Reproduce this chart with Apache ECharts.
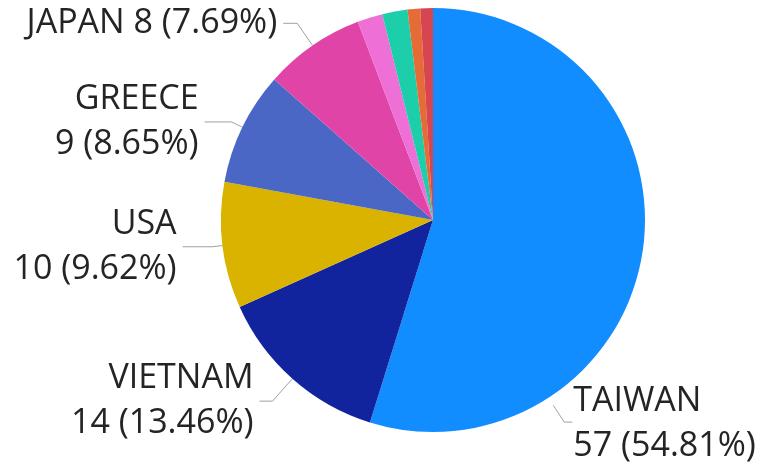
<!DOCTYPE html>
<html>
<head>
<meta charset="utf-8">
<script src="https://cdn.jsdelivr.net/npm/echarts@6/dist/echarts.min.js"></script>
<style>
  html, body { margin: 0; padding: 0; background: #fff; }
  #chart { width: 766px; height: 469px; }
</style>
</head>
<body>
<div id="chart"></div>
<script>
// Data (total 104)
const countries = ['TAIWAN', 'VIETNAM', 'USA', 'GREECE', 'JAPAN', 'KOREA', 'CHINA', 'INDIA', 'UK']
const counts = [57, 14, 10, 9, 8, 2, 2, 1, 1]
const sliceColors = ['#118DFF', '#12239E', '#D9B300', '#4A67C6', '#E044A7', '#EE6FD6', '#1CCFAA', '#E66C37', '#D64550']
const labelled = ['TAIWAN', 'VIETNAM', 'USA', 'GREECE', 'JAPAN']
const oneLine = ['JAPAN']

const total = counts.reduce((a, b) => a + b, 0)
const pct = (v) => (v / total * 100).toFixed(2)

const centerX = 433
const centerY = 220
const radius = 212

const chart = echarts.init(document.getElementById('chart'))

const lineLen = { VIETNAM: 30, USA: 10, GREECE: 12, JAPAN: 27 }
const lineLen2 = { VIETNAM: 13, USA: 30, GREECE: 27, JAPAN: 14 }

const pieData = countries.map((name, i) => ({
  name,
  value: counts[i],
  itemStyle: { color: sliceColors[i] },
  label: { show: labelled.includes(name) },
  labelLine: {
    show: labelled.includes(name),
    length: lineLen[name] || 15,
    length2: lineLen2[name] || 15
  }
}))

// Power BI pushes the big TAIWAN label down to the lower right
const polar = (deg, r) => {
  const a = deg * Math.PI / 180
  return [centerX + r * Math.sin(a), centerY - r * Math.cos(a)]
}

chart.setOption({
  animation: false,
  series: [{
    type: 'pie',
    center: [centerX, centerY],
    radius: radius,
    startAngle: 90,
    clockwise: true,
    avoidLabelOverlap: false,
    data: pieData,
    label: {
      position: 'outside',
      fontFamily: 'Open Sans',
      fontSize: 34,
      lineHeight: 45,
      color: '#252423',
      padding: [8, 0, 0, 0],
      distanceToLabelLine: 6,
      formatter: (p) => oneLine.includes(p.name)
        ? `${p.name} ${p.value} (${pct(p.value)}%)`
        : `${p.name}\n${p.value} (${pct(p.value)}%)`
    },
    labelLine: {
      lineStyle: { color: '#A0A0A0', width: 1 }
    },
    labelLayout: (params) => {
      if (params.dataIndex !== 0) return {}
      const p0 = polar(147, radius + 9)
      const p1 = polar(147, radius + 29)
      const p2 = [p1[0] + 8, p1[1]]
      return {
        x: p2[0] + 1,
        y: p2[1] + 2,
        align: 'left',
        verticalAlign: 'middle',
        labelLinePoints: [p0, p1, p2]
      }
    }
  }]
})
</script>
</body>
</html>
